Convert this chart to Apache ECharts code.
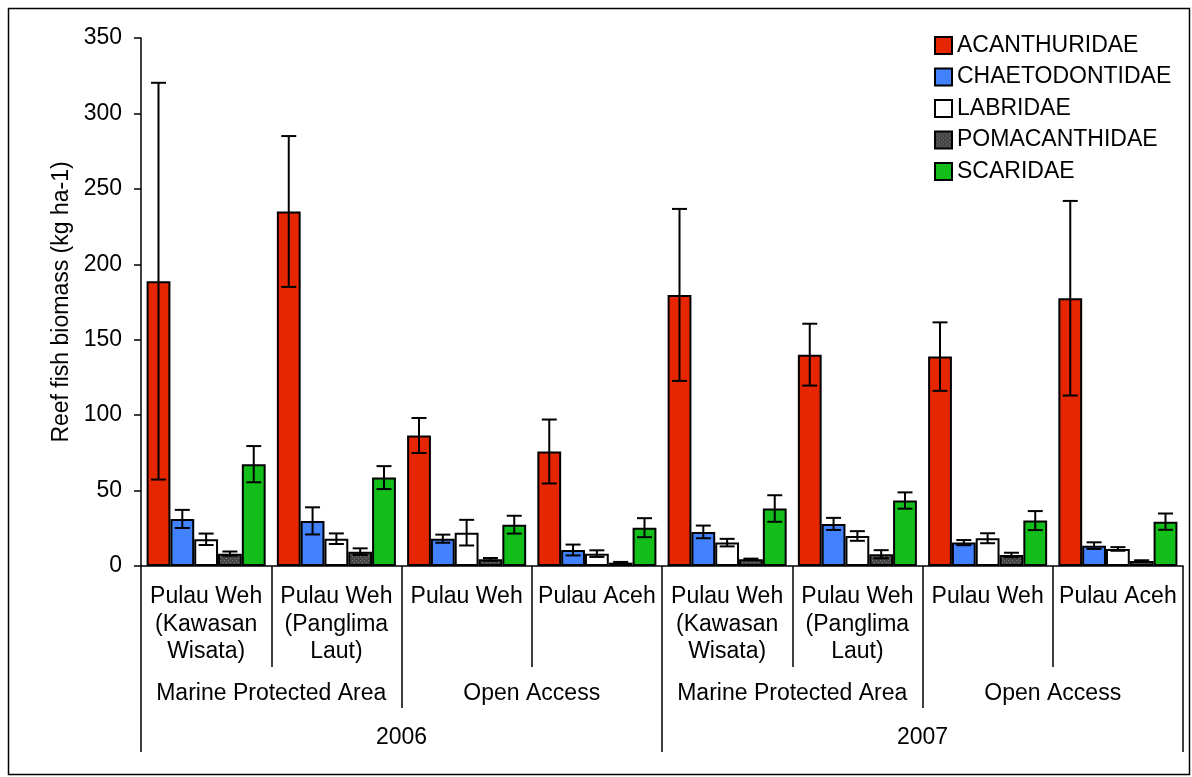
<!DOCTYPE html>
<html>
<head>
<meta charset="utf-8">
<script src="https://cdn.jsdelivr.net/npm/echarts@6/dist/echarts.min.js"></script>
<style>
html,body{margin:0;padding:0;background:#fff;}
#chart{width:1192px;height:777px;}
</style>
</head>
<body>
<div id="chart"></div>
<script>
// ---- data ----
const sites = ['Pulau Weh\n(Kawasan\nWisata)', 'Pulau Weh\n(Panglima\nLaut)', 'Pulau Weh', 'Pulau Aceh',
               'Pulau Weh\n(Kawasan\nWisata)', 'Pulau Weh\n(Panglima\nLaut)', 'Pulau Weh', 'Pulau Aceh'];
const access = ['Marine Protected Area', 'Open Access', 'Marine Protected Area', 'Open Access'];
const years = ['2006', '2007'];
const families = ['ACANTHURIDAE', 'CHAETODONTIDAE', 'LABRIDAE', 'POMACANTHIDAE', 'SCARIDAE'];

const acanthuridae   = [188.8, 235.0, 86.5, 75.9, 179.7, 140.1, 138.8, 177.5];
const chaetodontidae = [31.2, 29.9, 18.1, 10.6, 22.6, 27.9, 15.5, 13.5];
const labridae       = [17.7, 18.1, 22.1, 8.2, 15.5, 19.9, 18.4, 11.3];
const pomacanthidae  = [8.2, 9.5, 4.4, 2.2, 4.4, 7.8, 7.3, 3.3];
const scaridae       = [67.5, 58.6, 27.4, 25.4, 38.1, 43.4, 30.1, 29.4];

const acanthuridaeErr   = [131.5, 50.0, 11.6, 21.2, 57.0, 20.5, 22.7, 64.5];
const chaetodontidaeErr = [6.0, 9.0, 2.7, 3.6, 4.2, 4.0, 1.7, 2.2];
const labridaeErr       = [3.8, 3.5, 8.5, 2.2, 2.5, 3.2, 3.3, 1.2];
const pomacanthidaeErr  = [1.4, 2.2, 0.9, 0.5, 0.5, 2.7, 1.5, 0.5];
const scaridaeErr       = [12.0, 7.6, 5.9, 6.3, 8.8, 5.4, 6.3, 5.4];

const yTicks = [0, 50, 100, 150, 200, 250, 300, 350];

const values = [acanthuridae, chaetodontidae, labridae, pomacanthidae, scaridae];
const errors = [acanthuridaeErr, chaetodontidaeErr, labridaeErr, pomacanthidaeErr, scaridaeErr];

// ---- styles ----
function dotPattern() {
  const c = document.createElement('canvas');
  c.width = 4; c.height = 4;
  const g = c.getContext('2d');
  g.fillStyle = '#454545'; g.fillRect(0, 0, 4, 4);
  g.fillStyle = '#7c7c7c';
  g.fillRect(0, 0, 1, 1); g.fillRect(2, 2, 1, 1);
  return c;
}
const colors = ['#e52600', '#4382ff', '#ffffff', {image: dotPattern(), repeat: 'repeat'}, '#13be1b'];
const FONT = 'Liberation Sans, Arial, sans-serif';
const FS = 23;
const GAP = 0.086;

const series = [];
families.forEach((name, k) => {
  series.push({
    name: name, type: 'bar', xAxisIndex: 0,
    data: values[k],
    barGap: '0%', barCategoryGap: (GAP * 100) + '%',
    itemStyle: {color: colors[k], borderColor: '#000', borderWidth: 2},
    emphasis: {disabled: true}
  });
});
families.forEach((name, k) => {
  series.push({
    name: 'err_' + name, type: 'custom', xAxisIndex: 0, z: 10,
    data: values[k].map((v, i) => [i, v, errors[k][i]]),
    encode: {x: 0, y: 1},
    renderItem: function (params, api) {
      const i = api.value(0), v = api.value(1), e = api.value(2);
      const c = api.coord([i, v]);
      const cw = api.size([1, 0])[0];
      const bw = cw * (1 - GAP) / 5;
      const x = c[0] + (k - 2) * bw;
      const yt = api.coord([i, v + e])[1];
      const yb = api.coord([i, Math.max(v - e, 0)])[1];
      const hw = 7.5;
      const st = {stroke: '#000', lineWidth: 2};
      return {type: 'group', children: [
        {type: 'line', shape: {x1: x, y1: yt, x2: x, y2: yb}, style: st},
        {type: 'line', shape: {x1: x - hw, y1: yt, x2: x + hw, y2: yt}, style: st},
        {type: 'line', shape: {x1: x - hw, y1: yb, x2: x + hw, y2: yb}, style: st}
      ]};
    }
  });
});

const chart = echarts.init(document.getElementById('chart'));
chart.setOption({
  animation: false,
  backgroundColor: '#fff',
  textStyle: {fontFamily: FONT},
  graphic: [{
    type: 'rect', z: -10,
    shape: {x: 8.5, y: 8.5, width: 1181, height: 766},
    style: {fill: 'none', stroke: '#000', lineWidth: 1.5}
  }],
  legend: {
    data: families, orient: 'vertical', left: 929, top: 29, icon: 'rect',
    itemWidth: 17, itemHeight: 17, itemGap: 8.5,
    textStyle: {fontSize: FS, color: '#000', fontFamily: FONT},
    selectedMode: false
  },
  grid: {left: 141, right: 9, top: 38, bottom: 211},
  xAxis: [
    {
      type: 'category', data: sites, position: 'bottom',
      axisLine: {show: true, lineStyle: {color: '#000', width: 1.5}},
      axisTick: {show: true, interval: 0, length: 101, lineStyle: {color: '#000', width: 1.5}},
      axisLabel: {interval: 0, fontSize: FS, color: '#000', lineHeight: 27.5, margin: 17, fontFamily: FONT}
    },
    {
      type: 'category', data: access, position: 'bottom',
      axisLine: {show: false},
      axisTick: {show: true, interval: 0, length: 142, lineStyle: {color: '#000', width: 1.5}},
      axisLabel: {interval: 0, fontSize: FS, color: '#000', lineHeight: 27.5, margin: 114, fontFamily: FONT}
    },
    {
      type: 'category', data: years, position: 'bottom',
      axisLine: {show: false},
      axisTick: {show: true, interval: 0, length: 186, lineStyle: {color: '#000', width: 1.5}},
      axisLabel: {interval: 0, fontSize: FS, color: '#000', lineHeight: 27.5, margin: 158, fontFamily: FONT}
    }
  ],
  yAxis: {
    type: 'value', min: yTicks[0], max: yTicks[yTicks.length - 1], interval: 50,
    name: 'Reef fish biomass (kg ha-1)', nameLocation: 'middle', nameGap: 66,
    nameTextStyle: {fontSize: FS, color: '#000', fontFamily: FONT},
    axisLine: {show: true, lineStyle: {color: '#000', width: 1.5}},
    axisTick: {show: true, length: 7, lineStyle: {color: '#000', width: 1.5}},
    axisLabel: {fontSize: FS, color: '#000', margin: 19, fontFamily: FONT},
    splitLine: {show: false}
  },
  series: series
});
</script>
</body>
</html>
